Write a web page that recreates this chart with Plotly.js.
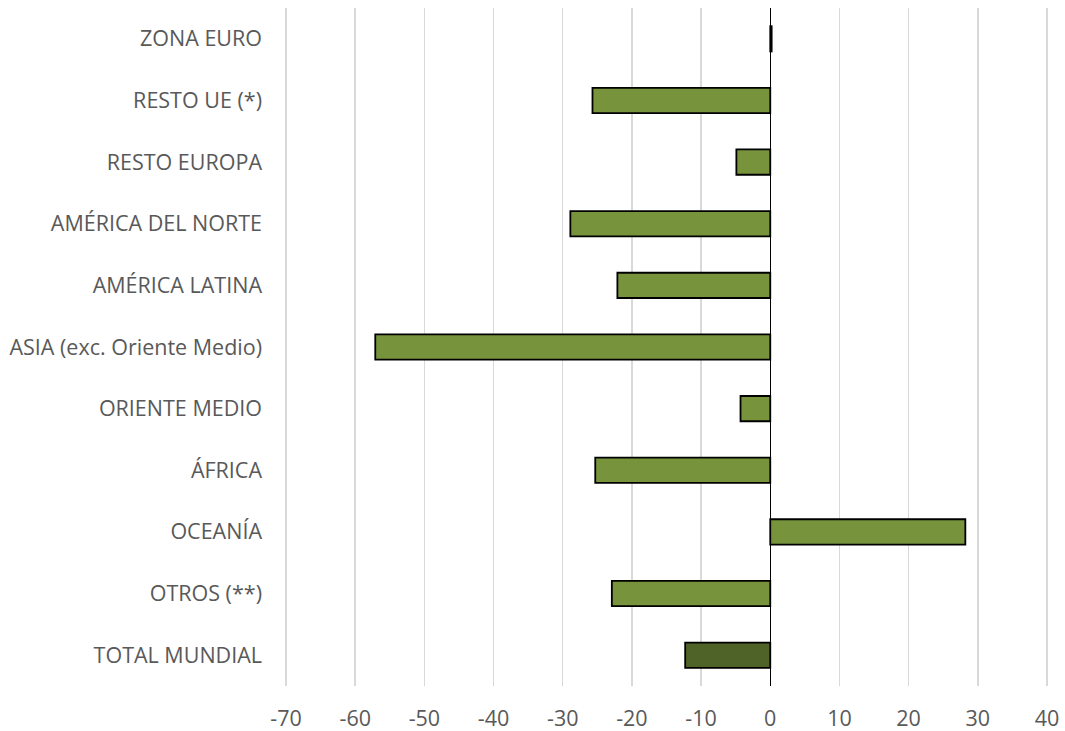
<!DOCTYPE html>
<html>
<head>
<meta charset="utf-8">
<script src="https://cdn.plot.ly/plotly-3.0.1.min.js"></script>
<style>html,body{margin:0;padding:0;background:#fff;}#chart{width:1065px;height:731px;}</style>
</head>
<body>
<div id="chart"></div>
<script>
const categories = ["ZONA EURO","RESTO UE (*)","RESTO EUROPA","AMÉRICA DEL NORTE","AMÉRICA LATINA","ASIA (exc. Oriente Medio)","ORIENTE MEDIO","ÁFRICA","OCEANÍA","OTROS (**)","TOTAL MUNDIAL"];
const values = [0.2, -25.7, -4.9, -28.9, -22.1, -57.1, -4.3, -25.3, 28.2, -22.9, -12.3];
const xTicks = [-70,-60,-50,-40,-30,-20,-10,0,10,20,30,40];

const colors = categories.map(c => c === "TOTAL MUNDIAL" ? "#4F6228" : "#77933C");

Plotly.newPlot("chart", [{
  type: "bar",
  orientation: "h",
  y: categories,
  x: values,
  width: 0.41,
  marker: {color: colors, line: {color: "#000000", width: 1.8}},
  hoverinfo: "none"
}], {
  width: 1065, height: 731,
  margin: {l: 285, r: 17, t: 8, b: 45},
  paper_bgcolor: "#fff", plot_bgcolor: "#fff",
  showlegend: false,
  font: {family: "'Open Sans', sans-serif", size: 21.5, color: "#595959"},
  xaxis: {
    range: [-70.15, 40.15], tickvals: xTicks, ticktext: xTicks.map(String),
    showgrid: true, gridcolor: "#D9D9D9", gridwidth: 1.5,
    zeroline: true, zerolinecolor: "#000000", zerolinewidth: 1.5,
    showline: false, ticks: "", ticklabelstandoff: 17, fixedrange: true
  },
  yaxis: {
    type: "category", autorange: "reversed",
    showgrid: false, zeroline: false, showline: false, ticks: "",
    ticklabelstandoff: 22, fixedrange: true
  }
}, {displayModeBar: false, staticPlot: true});
</script>
</body>
</html>
